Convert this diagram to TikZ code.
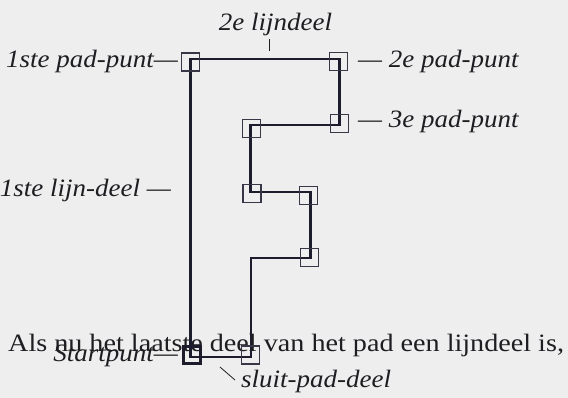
\documentclass[tikz,border=0pt]{standalone}
\usepackage{fontspec}
\setmainfont{Liberation Serif}
\newfontfamily\lblfont{Liberation Serif}[FakeStretch=1.08]
\newfontfamily\bodyfont{Liberation Serif}[FakeStretch=1.126]
\definecolor{bgcol}{RGB}{238,238,238}
\definecolor{linecol}{RGB}{28,28,44}
\definecolor{boxcol}{RGB}{55,55,72}
\definecolor{txtcol}{RGB}{30,30,34}
\tikzset{
  pathline/.style={draw=linecol, line width=2.4pt, line join=miter},
  mbox/.style={draw=boxcol, line width=1.2pt, rectangle, minimum size=18pt, inner sep=0pt},
  startbox/.style={draw=linecol, line width=3pt, rectangle, minimum size=17pt, inner sep=0pt},
  lbl/.style={font=\lblfont\itshape\fontsize{25}{30}\selectfont, text=txtcol, inner sep=0pt},
  bodytext/.style={font=\bodyfont\fontsize{25}{30}\selectfont, text=txtcol, inner sep=0pt},
  tickline/.style={draw=txtcol, line width=0.8pt}
}
\begin{document}
\begin{tikzpicture}[x=1pt,y=-1pt]
\fill[bgcol] (0,0) rectangle (568,398);
\useasboundingbox (0,0) rectangle (568,398);
% path points
\coordinate (S)  at (190.5,357);
\coordinate (P1) at (190.5,59);
\coordinate (P2) at (339.3,59);
\coordinate (P3) at (339.3,125);
\coordinate (P4) at (250.3,125);
\coordinate (P5) at (250.3,192);
\coordinate (P6) at (310.5,192);
\coordinate (P7) at (310.5,258);
\coordinate (P8) at (251,258);
\coordinate (E)  at (251,357);
% body text (behind)
\node[bodytext, anchor=base west] (body) at (8,352) {Als nu het laatste deel van het pad een lijndeel is,};
% the path
\draw[pathline] (S) -- (P1) -- (P2) -- (P3) -- (P4) -- (P5) -- (P6) -- (P7) -- (P8) -- (E) -- cycle;
% boxes
\node[mbox] (b1) at (190.7,62) {};
\node[mbox] (b2) at (338.2,61.7) {};
\node[mbox] (b3) at (339.2,123.3) {};
\node[mbox] (b4) at (251.3,128.7) {};
\node[mbox] (b5) at (252,193.7) {};
\node[mbox] (b6) at (308.7,195.3) {};
\node[mbox] (b7) at (309.5,257.8) {};
\node[mbox] (be) at (250.3,355) {};
\node[startbox] (bs) at (191.7,355) {};
% labels
\node[lbl, anchor=base] (l2e) at (275.5,31) {2e lijndeel};
\coordinate (t2a) at (269.3,39.5);
\coordinate (t2b) at (269.3,51.5);
\draw[tickline] (t2a) -- (t2b);
\node[lbl, anchor=base east] (lp1) at (178,68) {1ste pad-punt—};
\node[lbl, anchor=base west] (lp2) at (358,68) {— 2e pad-punt};
\node[lbl, anchor=base west] (lp3) at (358,128) {— 3e pad-punt};
\node[lbl, anchor=base east] (ll1) at (171,197) {1ste lijn-deel —};
\node[lbl, anchor=base east] (lst) at (178,361) {Startpunt—};
\coordinate (tsa) at (220,367);
\coordinate (tsb) at (235,380);
\draw[tickline] (tsa) -- (tsb);
\node[lbl, anchor=base west] (lsl) at (241,387) {sluit-pad-deel};
\end{tikzpicture}
\end{document}
